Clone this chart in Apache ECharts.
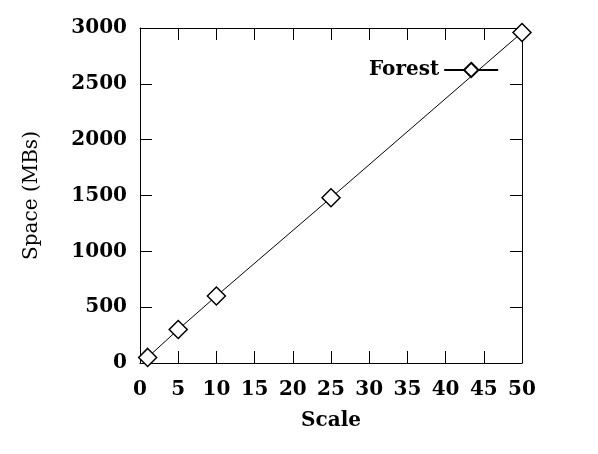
<!DOCTYPE html>
<html><head><meta charset="utf-8">
<script src="https://cdn.jsdelivr.net/npm/echarts@6/dist/echarts.min.js"></script>
<style>html,body{margin:0;padding:0;background:#fff}#c{width:598px;height:454px}</style>
</head><body><div id="c"></div>
<script>
const scales = [1, 5, 10, 25, 50];
const forest = [50, 300, 600, 1480, 2960];
const seriesName = 'Forest';
const xTitle = 'Scale';
const yTitle = 'Space (MBs)';

const font = 'DejaVu Serif';
const chart = echarts.init(document.getElementById('c'), null, {renderer: 'canvas'});
const axisLine = {show: true, onZero: false, lineStyle: {color: '#000', width: 1}};
const tick = {show: true, inside: true, length: 12, lineStyle: {color: '#000', width: 1}};
const plain = v => String(v);
chart.setOption({
  animation: false,
  backgroundColor: '#fff',
  grid: {left: 140, right: 76, top: 28, bottom: 91},
  legend: {
    show: true, left: 364, top: 55, align: 'right',
    itemWidth: 54, itemHeight: 18, itemGap: 0,
    textStyle: {fontFamily: font, fontWeight: 'bold', fontSize: 20, color: '#000', padding: [0, 0, 0, 0]},
    data: [seriesName]
  },
  xAxis: [{
    type: 'value', min: 0, max: 50, interval: 5, position: 'bottom',
    name: xTitle, nameLocation: 'middle', nameGap: 48,
    nameTextStyle: {fontFamily: font, fontWeight: 'bold', fontSize: 20, color: '#000'},
    axisLine, axisTick: tick, splitLine: {show: false},
    axisLabel: {margin: 17, formatter: plain, fontFamily: font, fontWeight: 'bold', fontSize: 20, color: '#000'}
  }, {
    type: 'value', min: 0, max: 50, interval: 5, position: 'top',
    axisLine, axisTick: tick, splitLine: {show: false}, axisLabel: {show: false}
  }],
  yAxis: [{
    type: 'value', min: 0, max: 3000, interval: 500, position: 'left',
    name: yTitle, nameLocation: 'middle', nameGap: 98, nameRotate: 90,
    nameTextStyle: {fontFamily: font, fontSize: 20, color: '#000'},
    axisLine, axisTick: tick, splitLine: {show: false},
    axisLabel: {margin: 13, formatter: plain, fontFamily: font, fontWeight: 'bold', fontSize: 20, color: '#000'}
  }, {
    type: 'value', min: 0, max: 3000, interval: 500, position: 'right',
    axisLine, axisTick: tick, splitLine: {show: false}, axisLabel: {show: false}
  }],
  series: [{
    name: seriesName, type: 'line',
    data: scales.map((s, i) => [s, forest[i]]),
    symbol: 'diamond', symbolSize: 18, showSymbol: true,
    lineStyle: {color: '#000', width: 1},
    itemStyle: {color: '#fff', borderColor: '#000', borderWidth: 1.5}
  }]
});
</script></body></html>
